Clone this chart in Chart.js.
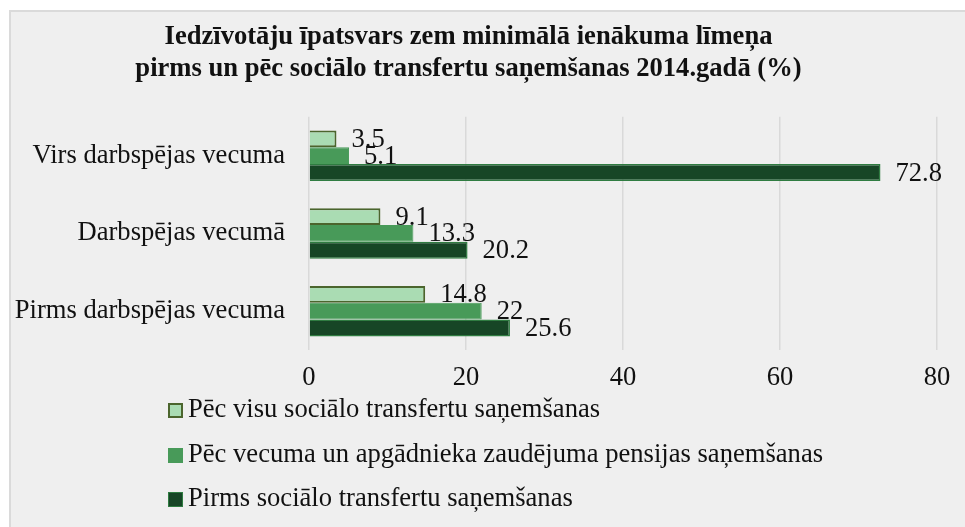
<!DOCTYPE html>
<html>
<head>
<meta charset="utf-8">
<script src="https://cdn.jsdelivr.net/npm/chart.js@4/dist/chart.umd.min.js"></script>
<style>
  html, body { margin: 0; padding: 0; background: #fff; overflow: hidden; }
  #page { position: relative; width: 965px; height: 527px; overflow: hidden; }
  #frame {
    position: absolute; left: 9px; top: 10px; width: 970px; height: 530px;
    background: #efefef; border: 2px solid #dadada;
  }
  #chartBox { position: absolute; left: 0; top: 0; width: 965px; height: 400px; }
  #legend {
    position: absolute; left: 168px; top: 386px; margin: 0; padding: 0; list-style: none;
    font-family: "Liberation Serif", "Times New Roman", serif; font-size: 26.6px; color: #111;
  }
  #legend li { height: 44.5px; line-height: 44.5px; white-space: nowrap; }
  #legend .box {
    display: inline-block; width: 15px; height: 15px; box-sizing: border-box;
    margin-right: 5px; vertical-align: -1px;
  }
</style>
</head>
<body>
<div id="page">
  <div id="frame"></div>
  <div id="chartBox"><canvas id="chart" width="965" height="400"></canvas></div>
  <ul id="legend"></ul>
</div>
<script>
const categories = ["Virs darbspējas vecuma", "Darbspējas vecumā", "Pirms darbspējas vecuma"];
const seriesNames = [
  "Pēc visu sociālo transfertu saņemšanas",
  "Pēc vecuma un apgādnieka zaudējuma pensijas saņemšanas",
  "Pirms sociālo transfertu saņemšanas"
];
const afterAllTransfers = [3.5, 9.1, 14.8];
const afterPensions = [5.1, 13.3, 22];
const beforeTransfers = [72.8, 20.2, 25.6];
const xTicks = [0, 20, 40, 60, 80];

const titleLines = [
  "Iedzīvotāju īpatsvars zem minimālā ienākuma līmeņa",
  "pirms un pēc sociālo transfertu saņemšanas 2014.gadā (%)"
];

const serif = "'Liberation Serif', 'Times New Roman', serif";
const fontSize = 26.6;

const fills = ["#aadcb3", "#489a59", "#174626"];
const borders = ["#4b652d", "#489a59", "#2f7c41"];
const borderWidths = [2, 1, 1.5];

// value labels just right of each bar end
const valueLabels = {
  id: "valueLabels",
  afterDatasetsDraw(chart) {
    const ctx = chart.ctx;
    ctx.save();
    ctx.font = fontSize + "px " + serif;
    ctx.fillStyle = "#111";
    ctx.textAlign = "left";
    ctx.textBaseline = "middle";
    chart.data.datasets.forEach((ds, i) => {
      chart.getDatasetMeta(i).data.forEach((bar, j) => {
        ctx.fillText(String(ds.data[j]), bar.x + 15, bar.y + 1);
      });
    });
    ctx.restore();
  }
};

const seriesData = [afterAllTransfers, afterPensions, beforeTransfers];

const chart = new Chart(document.getElementById("chart"), {
  type: "bar",
  data: {
    labels: categories,
    datasets: seriesData.map((d, i) => ({
      label: seriesNames[i],
      data: d,
      backgroundColor: fills[i],
      borderColor: borders[i],
      borderWidth: borderWidths[i],
      categoryPercentage: 0.65,
      barPercentage: 1
    }))
  },
  options: {
    indexAxis: "y",
    responsive: false,
    animation: false,
    layout: { padding: { left: 0, right: 28, top: 0, bottom: 0 } },
    scales: {
      x: {
        min: 0,
        max: 80,
        afterBuildTicks: scale => { scale.ticks = xTicks.map(v => ({ value: v })); },
        afterFit: scale => { scale.height = 50; },
        grid: { color: "#d9d9d9", lineWidth: 1.5, drawTicks: false },
        border: { display: false },
        ticks: { padding: 12, color: "#111", font: { family: serif, size: fontSize } }
      },
      y: {
        afterFit: scale => { scale.width = 309; },
        grid: { display: false, drawTicks: false },
        border: { display: false },
        ticks: { padding: 24, color: "#111", font: { family: serif, size: fontSize } }
      }
    },
    plugins: {
      legend: { display: false },
      tooltip: { enabled: false },
      title: {
        display: true,
        text: titleLines,
        color: "#111",
        font: { family: serif, size: fontSize, weight: "bold", lineHeight: 1.2 },
        padding: { top: 21, bottom: 32 }
      }
    }
  },
  plugins: [valueLabels]
});

// legend as a vertical list under the chart
const legend = document.getElementById("legend");
seriesNames.forEach((name, i) => {
  const li = document.createElement("li");
  const box = document.createElement("span");
  box.className = "box";
  box.style.background = fills[i];
  box.style.border = (i === 0 ? 2 : 1) + "px solid " + borders[i];
  li.appendChild(box);
  li.appendChild(document.createTextNode(name));
  legend.appendChild(li);
});
</script>
</body>
</html>
